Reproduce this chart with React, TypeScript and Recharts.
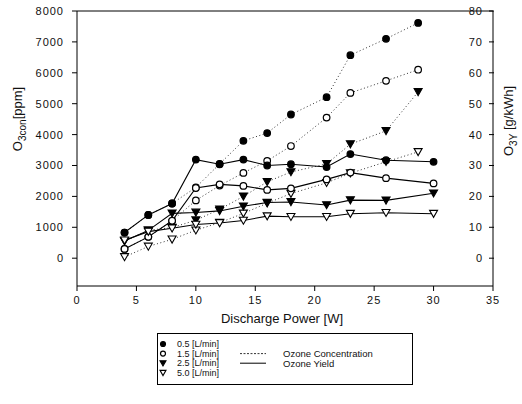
import React from 'react';
import { LineChart, Line, XAxis, YAxis, ReferenceLine } from 'recharts';

// discharge power [W] at which each curve was measured
const concPower = [4, 6, 8, 10, 12, 14, 16, 18, 21, 23, 26, 28.7];
const yieldPower = [4, 6, 8, 10, 12, 14, 16, 18, 21, 23, 26, 30];

// ozone concentration [ppm] per flow rate
const conc05 = [830, 1400, 1770, 2290, 3050, 3800, 4050, 4650, 5210, 6570, 7100, 7615];
const conc15 = [300, 690, 1210, 1870, 2350, 2760, 3150, 3630, 4550, 5350, 5740, 6100];
const conc25 = [550, 905, 990, 1230, 1580, 2000, 2470, 2790, 3050, 3690, 4120, 5380];
const conc50 = [40, 380, 610, 905, 1150, 1450, 1780, 2090, 2440, 2750, 3120, 3440];

// ozone yield [g/kWh] per flow rate
const yield05 = [8.3, 14.0, 17.7, 31.9, 30.4, 31.9, 30.0, 30.4, 29.5, 33.7, 31.7, 31.2];
const yield15 = [3.0, 6.9, 12.1, 22.7, 23.9, 23.4, 22.1, 22.6, 25.5, 27.7, 25.9, 24.2];
const yield25 = [5.6, 9.0, 14.5, 14.8, 15.3, 16.8, 18.0, 18.2, 17.2, 18.8, 18.7, 21.0];
const yield50 = [5.8, 8.6, 9.7, 10.9, 11.4, 12.2, 13.6, 13.4, 13.4, 14.4, 14.7, 14.4];

const flows = ['0.5', '1.5', '2.5', '5.0'];
const xTicks = [0, 5, 10, 15, 20, 25, 30, 35];
const leftTicks = [0, 1000, 2000, 3000, 4000, 5000, 6000, 7000, 8000];
const rightTicks = [0, 10, 20, 30, 40, 50, 60, 70, 80];

const concSeries = [conc05, conc15, conc25, conc50];
const yieldSeries = [yield05, yield15, yield25, yield50];

const powers = Array.from(new Set([...concPower, ...yieldPower])).sort((a, b) => a - b);
const rows = powers.map((p) => {
  const row: Record<string, number | null> = { p };
  const ci = concPower.indexOf(p);
  const yi = yieldPower.indexOf(p);
  concSeries.forEach((s, k) => { row['c' + k] = ci >= 0 ? s[ci] : null; });
  yieldSeries.forEach((s, k) => { row['y' + k] = yi >= 0 ? s[yi] : null; });
  return row;
});

const FONT = '"Liberation Sans", Arial, sans-serif';
const tickStyle = { fontSize: 11, fill: '#111', fontFamily: FONT, letterSpacing: 1 };

function Marker({ cx, cy, kind, s = 1 }: { cx?: number; cy?: number; kind: number; s?: number }) {
  if (cx == null || cy == null || isNaN(cy)) return null;
  const fill = kind === 0 || kind === 2 ? '#000' : '#fff';
  if (kind < 2) {
    return <circle cx={cx} cy={cy} r={3.3 * s} fill={fill} stroke="#000" strokeWidth={1.2} />;
  }
  return (
    <polygon
      points={`${cx - 4 * s},${cy - 3.3 * s} ${cx + 4 * s},${cy - 3.3 * s} ${cx},${cy + 3.7 * s}`}
      fill={fill}
      stroke="#000"
      strokeWidth={1.1}
    />
  );
}

const dotFor = (kind: number) => (p: any) => (
  <Marker key={`m-${kind}-${p.index}`} cx={p.cx} cy={p.cy} kind={kind} />
);

// right axis labels sit inside the frame, with inward tick marks
const RightTick = (props: any) => {
  const y = props.y;
  return (
    <g>
      <line x1={489} x2={494} y1={y} y2={y} stroke="#000" />
      <text x={483} y={y + 4} textAnchor="end" {...tickStyle}>
        {props.payload.value}
      </text>
    </g>
  );
};

function LegendBox() {
  return (
    <div
      style={{
        position: 'absolute', left: 157, top: 333, width: 256, height: 52,
        border: '1px solid #000', boxSizing: 'border-box',
      }}
    >
      <svg width={256} height={52} style={{ position: 'absolute', left: -1, top: -1 }}>
        {flows.map((f, i) => {
          const y = 11 + i * 9.6;
          return (
            <g key={f}>
              <Marker cx={6} cy={y} kind={i} s={0.75} />
              <text x={20} y={y + 3.2} fontSize={9} fontFamily={FONT} fill="#111">
                {f} [L/min]
              </text>
            </g>
          );
        })}
        <line x1={83} x2={109} y1={20.6} y2={20.6} stroke="#333" strokeDasharray="2 1.5" />
        <line x1={83} x2={109} y1={30.2} y2={30.2} stroke="#000" strokeWidth={1} />
        <text x={126} y={24} fontSize={9.5} fontFamily={FONT} fill="#111">Ozone Concentration</text>
        <text x={126} y={33.6} fontSize={9.5} fontFamily={FONT} fill="#111">Ozone Yield</text>
      </svg>
    </div>
  );
}

export default function App() {
  return (
    <div style={{ position: 'absolute', left: 0, top: 0, width: 522, height: 404, background: '#fff' }}>
      <LineChart width={522} height={404} data={rows} margin={{ top: 11, right: 0, bottom: 78, left: 0 }}>
        <XAxis
          dataKey="p"
          type="number"
          domain={[0, 35]}
          ticks={xTicks}
          height={40}
          tickSize={5}
          tickMargin={5}
          tick={tickStyle}
          stroke="#000"
          label={{
            content: () => (
              <text x={282} y={323} textAnchor="middle" fontSize={13} fontFamily={FONT} fill="#111">
                Discharge Power [W]
              </text>
            ),
          }}
        />
        <YAxis
          yAxisId="left"
          orientation="left"
          width={77}
          domain={[-900, 8000]}
          ticks={leftTicks}
          tickSize={5}
          tickMargin={8}
          tick={tickStyle}
          stroke="#000"
          allowDataOverflow
          label={{
            content: () => (
              <text transform="translate(22,119) rotate(-90)" textAnchor="middle" fontSize={13} fontFamily={FONT} fill="#111">
                O<tspan fontSize={10} dy={4}>3con</tspan><tspan dy={-4}>[ppm]</tspan>
              </text>
            ),
          }}
        />
        <YAxis
          yAxisId="right"
          orientation="right"
          width={29}
          domain={[-9, 80]}
          ticks={rightTicks}
          tickLine={false}
          tick={<RightTick />}
          stroke="#000"
          allowDataOverflow
          label={{
            content: () => (
              <text transform="translate(513,121) rotate(-90)" textAnchor="middle" fontSize={13} fontFamily={FONT} fill="#111">
                O<tspan fontSize={10} dy={4}>3Y</tspan><tspan dy={-4}> [g/kWh]</tspan>
              </text>
            ),
          }}
        />
        <ReferenceLine yAxisId="left" y={8000} stroke="#000" />
        {concSeries.map((_, k) => (
          <Line
            key={'c' + k}
            yAxisId="left"
            dataKey={'c' + k}
            stroke="#333"
            strokeWidth={1}
            strokeDasharray="1 2.5"
            connectNulls
            dot={dotFor(k)}
            activeDot={false}
            isAnimationActive={false}
          />
        ))}
        {yieldSeries.map((_, k) => (
          <Line
            key={'y' + k}
            yAxisId="right"
            dataKey={'y' + k}
            stroke="#000"
            strokeWidth={1.1}
            connectNulls
            dot={dotFor(k)}
            activeDot={false}
            isAnimationActive={false}
          />
        ))}
      </LineChart>
      <LegendBox />
    </div>
  );
}
